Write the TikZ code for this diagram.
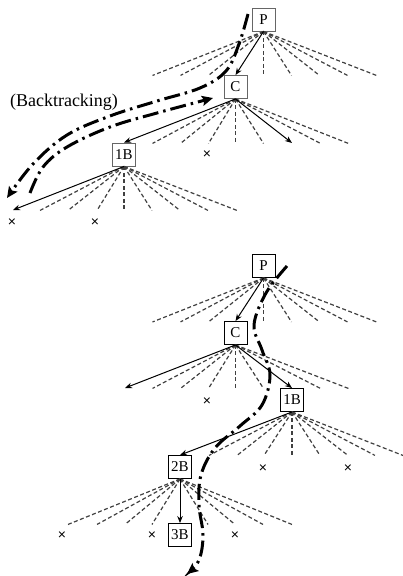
\documentclass[tikz,border=0pt]{standalone}
\usepackage{fontspec}
\setmainfont{Liberation Serif}
\setsansfont{Liberation Sans}
\usetikzlibrary{arrows.meta}
\tikzset{
  box/.style={draw=#1, line width=0.9pt, fill=white, minimum width=23pt, minimum height=23pt, inner sep=0pt, font=\rmfamily\fontsize{15}{15}\selectfont},
  box/.default=black,
  fan/.style={draw=black!75, line width=1.2pt, dash pattern=on 4pt off 2.5pt},
  sol/.style={draw=black, line width=1pt, -{Stealth[length=7pt,width=5.5pt]}},
  bt/.style={draw=black, line width=3pt, dash pattern=on 16pt off 5pt on 2.5pt off 5pt, -{Stealth[length=11pt,width=10pt,inset=2pt]}},
  xm/.style={font=\sffamily\fontsize{14}{14}\selectfont, inner sep=0pt, text=black}
}
\begin{document}
\begin{tikzpicture}[x=1pt,y=-1pt]
\useasboundingbox (0,0) rectangle (403,576);
% ---------------- top panel ----------------
\node[box=black!60] (P1) at (263.5,19.5) {P};
\node[box=black!60] (C1) at (235.5,87) {C};
\node[box=black!60] (B1) at (124,154.5) {1B};
\foreach \dx in {-111,-83,-55,0,28,56,84,113} \draw[fan] (P1.south) -- ++(\dx,44);
\draw[sol] (P1.south) -- (C1.north);
\foreach \dx in {-83,-55,-27,0,28,85,113} \draw[fan] (C1.south) -- ++(\dx,44.5);
\coordinate (c1r) at (292,143);
\draw[sol] (C1.south) -- (B1.north);
\draw[sol] (C1.south) -- (c1r);
\foreach \dx in {-84,-56,-27,0,28,56,84,113} \draw[fan] (B1.south) -- ++(\dx,44);
\coordinate (b1l) at (13,210);
\draw[sol] (B1.south) -- (b1l);
\node[xm] (x1) at (207,155) {×};
\node[xm] (x2) at (12,223) {×};
\node[xm] (x3) at (95,223) {×};
\node[font=\rmfamily\fontsize{18}{18}\selectfont] (bt) at (64,102) {(Backtracking)};
\draw[bt] plot[smooth, tension=0.6] coordinates {(248,14) (239,44) (226,71) (200,88) (157,101) (110,116) (67,135) (33,164) (7,198)};
\draw[bt] plot[smooth, tension=0.6] coordinates {(30,193) (43,167) (67,147) (110,127) (157,113) (213,98)};
% ---------------- bottom panel ----------------
\node[box] (P2) at (263.5,266) {P};
\node[box] (C2) at (235.5,333) {C};
\node[box] (B2) at (292,400) {1B};
\node[box] (D2) at (180,467) {2B};
\node[box] (E2) at (180,535) {3B};
\foreach \dx in {-111,-83,-55,0,28,56,84,113} \draw[fan] (P2.south) -- ++(\dx,44);
\draw[sol] (P2.south) -- (C2.north);
\foreach \dx in {-83,-55,-27,0,28,85,113} \draw[fan] (C2.south) -- ++(\dx,43.5);
\coordinate (c2l) at (125,388);
\draw[sol] (C2.south) -- (c2l);
\draw[sol] (C2.south) -- (B2.north);
\foreach \dx in {-83,-55,-28,0,28,56,83,111} \draw[fan] (B2.south) -- ++(\dx,43.5);
\draw[sol] (B2.south) -- (D2.north);
\foreach \dx in {-112,-83,-55,-28,28,55,83,112} \draw[fan] (D2.south) -- ++(\dx,45.5);
\draw[sol] (D2.south) -- (E2.north);
\node[xm] (x4) at (207,402) {×};
\node[xm] (x5) at (263,469) {×};
\node[xm] (x6) at (348,469) {×};
\node[xm] (x7) at (62,536) {×};
\node[xm] (x8) at (152,536) {×};
\node[xm] (x9) at (235,536) {×};
\draw[bt] plot[smooth, tension=0.6] coordinates {(287,266) (266,293) (254,325) (262,350) (270,375) (262,405) (240,426) (215,448) (201,475) (199,505) (203,535) (199,560) (187,574)};
\end{tikzpicture}
\end{document}
